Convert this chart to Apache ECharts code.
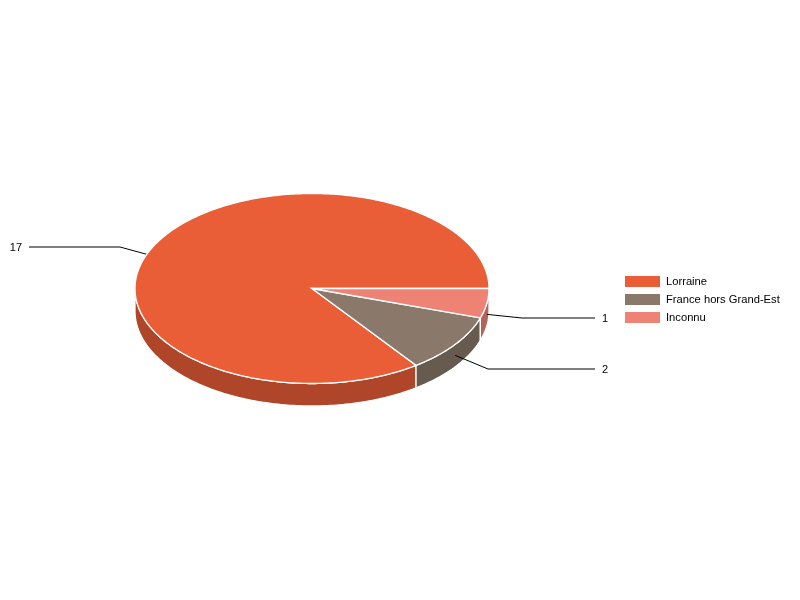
<!DOCTYPE html>
<html><head><meta charset="utf-8">
<style>html,body{margin:0;padding:0;background:#fff}#c{width:800px;height:600px}</style>
<script src="https://cdn.jsdelivr.net/npm/echarts@6/dist/echarts.min.js"></script>
</head><body><div id="c"></div>
<script>
var categories = ['Lorraine', 'France hors Grand-Est', 'Inconnu'];
var values = [17, 2, 1];
var labels = ['17', '2', '1'];
var topColors = ['#E95D37', '#8A786A', '#EE8375'];
var sideColors = ['#AF4629', '#675A4F', '#B36358'];
// Clockwise slice order starting from the east of the ellipse
var drawOrder = [2, 1, 0];

var cx = 312, cy = 288.5, rx = 177, ry = 95, depth = 22.5;
var total = values.reduce(function (a, b) { return a + b; }, 0);
var spans = {};
var acc = 0;
drawOrder.forEach(function (i) {
  var a0 = acc / total * 360;
  acc += values[i];
  spans[i] = [a0, acc / total * 360];
});
function pt(deg, dy) {
  var r = deg * Math.PI / 180;
  return [cx + rx * Math.cos(r), cy + (dy || 0) + ry * Math.sin(r)];
}
function arc(a0, a1, dy) {
  var out = [];
  var n = Math.max(2, Math.ceil(Math.abs(a1 - a0)));
  for (var k = 0; k <= n; k++) out.push(pt(a0 + (a1 - a0) * k / n, dy));
  return out;
}
function renderWall(params) {
  var i = params.dataIndex;
  var a0 = spans[i][0], a1 = Math.min(spans[i][1], 180);
  if (a0 >= 180) return null;
  return {
    type: 'polygon',
    shape: { points: arc(a0, a1, 0).concat(arc(a1, a0, depth)) },
    style: { fill: sideColors[i], stroke: '#fff', lineWidth: 1.3 }
  };
}
var elbowNudgeX = [0, 2, -2];
function renderLeader(params) {
  var i = params.dataIndex;
  var mid = (spans[i][0] + spans[i][1]) / 2;
  var r = mid * Math.PI / 180;
  var a = pt(mid, 11);
  var right = Math.cos(r) >= 0;
  var sin = Math.sin(r);
  var elbow = [Math.round(cx + 215 * Math.cos(r)) + elbowNudgeX[i],
               Math.round(cy + 11 + (sin < 0 ? 115 : 118) * sin)];
  var endX = right ? 595 : 29;
  return {
    type: 'group',
    children: [
      { type: 'polyline', shape: { points: [a, elbow, [endX, elbow[1]]] },
        style: { fill: null, stroke: '#000', lineWidth: 1 } },
      { type: 'text', x: right ? 602 : 22, y: elbow[1] + 0.5,
        style: { text: labels[i], fill: '#000', font: '11px "Liberation Sans", Arial, sans-serif',
                 align: right ? 'left' : 'right', verticalAlign: 'middle' } }
    ]
  };
}
function renderTop(i) {
  return function () {
    var pts = [[cx, cy]].concat(arc(spans[i][0], spans[i][1], 0));
    return {
      type: 'polygon',
      shape: { points: pts },
      style: { fill: topColors[i], stroke: '#fff', lineWidth: 1.3 }
    };
  };
}
var series = [
  { type: 'custom', name: 'walls', coordinateSystem: 'none', silent: true, z: 1, animation: false,
    renderItem: renderWall, data: values },
  { type: 'custom', name: 'leaders', coordinateSystem: 'none', silent: true, z: 2, animation: false,
    renderItem: renderLeader, data: values }
];
categories.forEach(function (name, i) {
  series.push({ type: 'custom', name: name, coordinateSystem: 'none', silent: true, z: 3, animation: false,
    itemStyle: { color: topColors[i] }, renderItem: renderTop(i), data: [values[i]] });
});
var chart = echarts.init(document.getElementById('c'), null, { renderer: 'canvas' });
chart.setOption({
  animation: false,
  backgroundColor: '#fff',
  color: topColors,
  legend: {
    data: categories.map(function (n, i) { return { name: n, icon: 'rect', itemStyle: { color: topColors[i] } }; }),
    orient: 'vertical', left: 625, top: 273, padding: 0,
    itemWidth: 35, itemHeight: 11, itemGap: 1, selectedMode: false,
    textStyle: { color: '#000', fontSize: 11.2, fontFamily: '"Liberation Sans", Arial, sans-serif', lineHeight: 13, verticalAlign: 'top', padding: [4, 0, 0, 1] }
  },
  series: series
});
</script></body></html>
